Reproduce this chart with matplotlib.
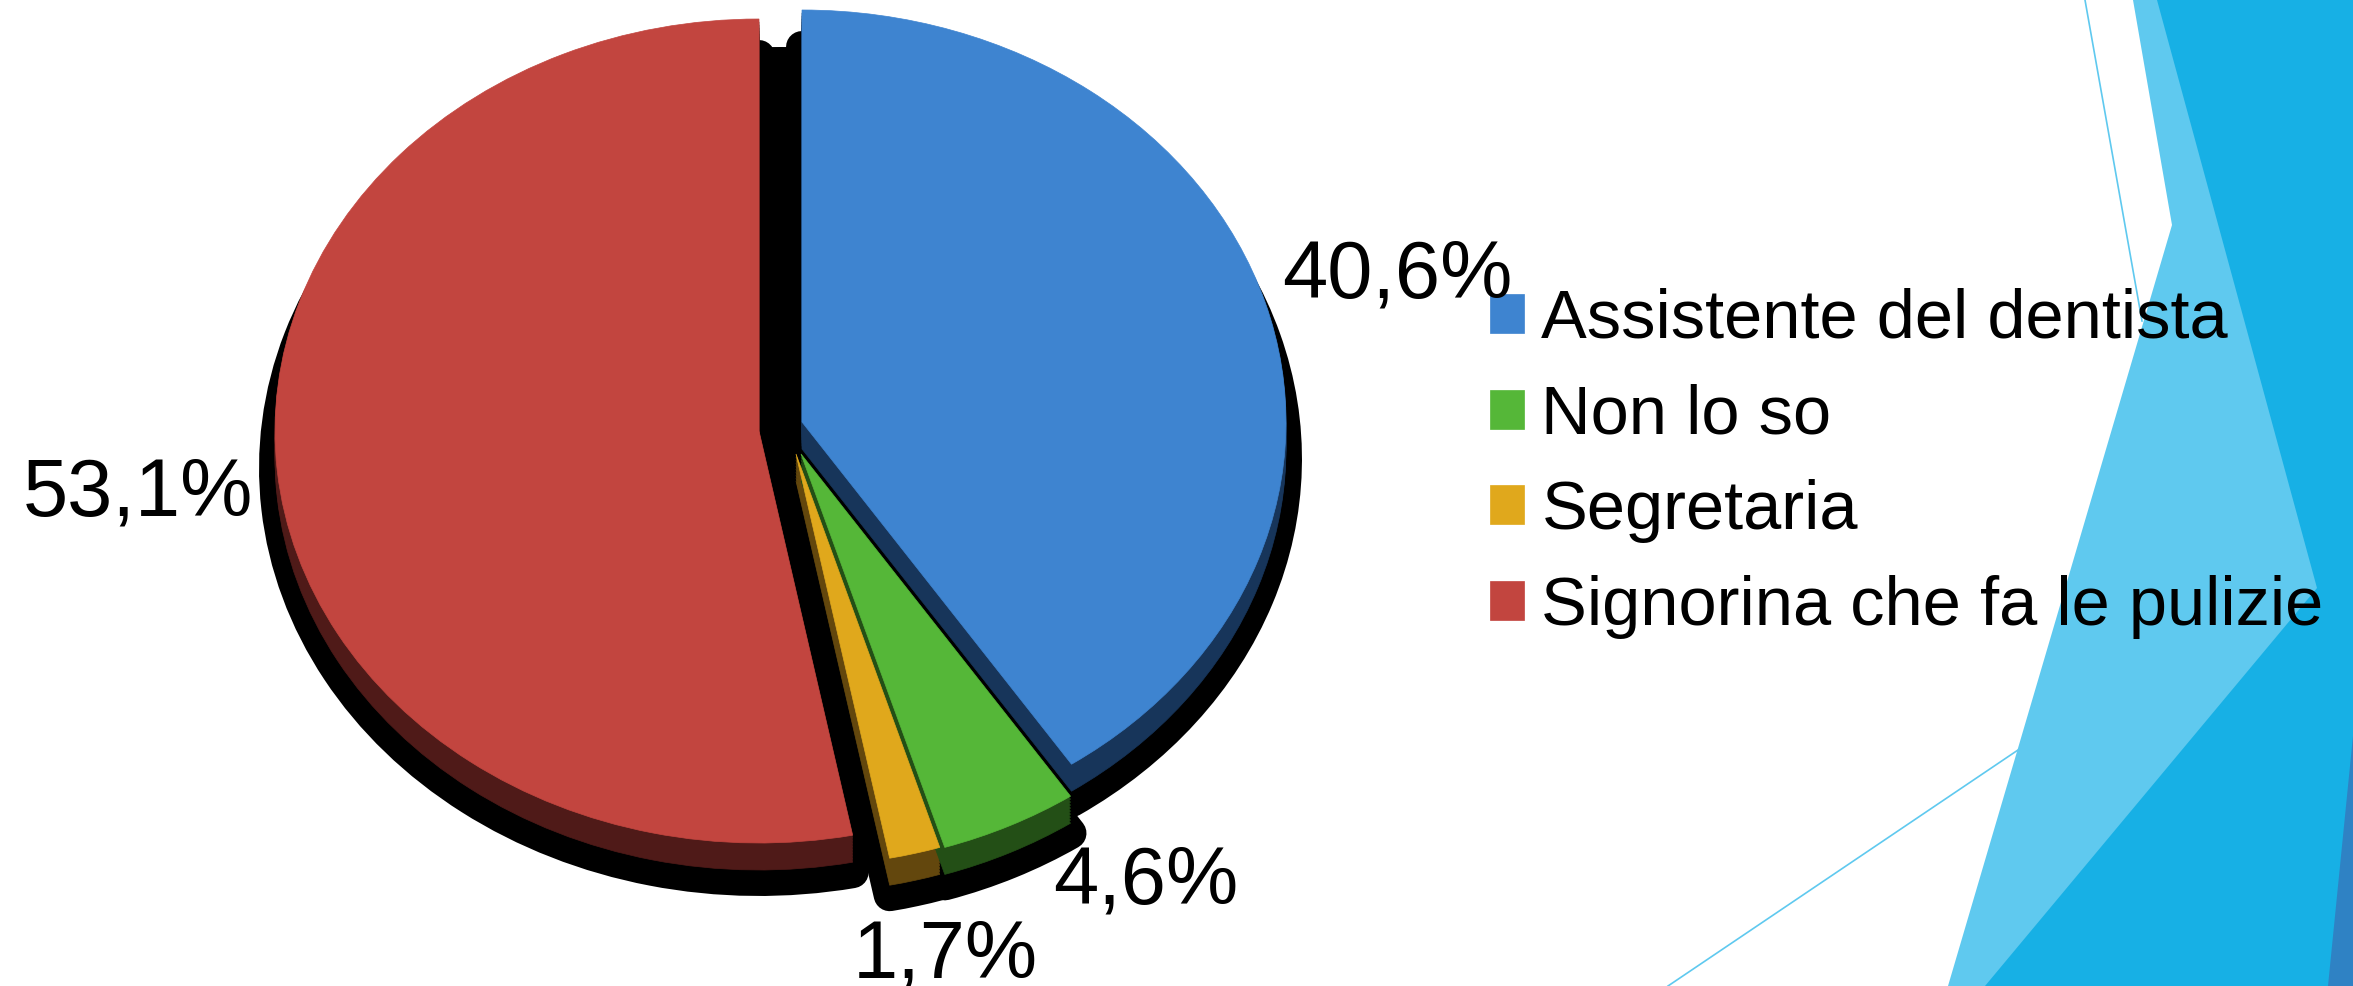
import matplotlib
matplotlib.use("Agg")
import matplotlib.pyplot as plt
from matplotlib.patches import Polygon

# ---- data ----
categories = ["Assistente del dentista", "Non lo so", "Segretaria", "Signorina che fa le pulizie"]
values = [40.6, 4.6, 1.7, 53.1]
colors = ["#3E84D0", "#55B738", "#E0A81C", "#C2453F"]
dark_colors = ["#17355A", "#234F16", "#63470D", "#4F1A18"]

# ---- layout (pixels) ----
W, H = 2353, 986
RX, RY = 484, 412
CX, CY = 759, 431
wedge_offsets = [(43, -9), (42, 23), (37, 23), (0, 0)]
DEPTH = 27
SHADOW = 37
label_pos = [(1282, 297), (1053, 903), (853, 977), (23, 515)]

plt.rcParams["font.family"] = ["Liberation Sans", "DejaVu Sans"]
fig = plt.figure(figsize=(W / 100, H / 100), dpi=100, facecolor="white")
ax = fig.add_axes([0, 0, 1, 1])


def to_data(px, py):
    return (px - CX) / RX, (CY - py) / RY


def draw_layer(idx, dx, dy, color, **props):
    off = wedge_offsets[idx]
    center = to_data(CX + off[0] + dx, CY + off[1] + dy)
    wedges, _ = ax.pie(values, startangle=90, counterclock=False, radius=1, center=center,
                       colors=[color] * len(values), wedgeprops=props)
    for i, w in enumerate(wedges):
        w.set_visible(i == idx)
    return wedges[idx]


# shadow
for i in range(len(values)):
    draw_layer(i, 0, SHADOW, "black", edgecolor="black", linewidth=23, joinstyle="round")
# black backing that closes the gaps between the separated slices
ax.pie([sum(values)], radius=1, center=to_data(CX + 22, CY + 28), colors=["black"])
# extruded side
order = [3, 2, 1, 0]
for i in order:
    for d in range(DEPTH, 0, -3):
        draw_layer(i, 0, d, dark_colors[i], edgecolor=dark_colors[i], linewidth=0.5)
# top faces
handles = {}
for i in order:
    handles[i] = draw_layer(i, 0, 0, colors[i], edgecolor=colors[i], linewidth=0.5)

ax.set_aspect("auto")
ax.set_xlim(-CX / RX, (W - CX) / RX)
ax.set_ylim((CY - H) / RY, CY / RY)
ax.axis("off")


# slide decoration
def px_poly(pts, color, z=0):
    ax.add_patch(Polygon([to_data(*p) for p in pts], closed=True, facecolor=color, edgecolor="none", zorder=z))


px_poly([(2133, 0), (2172, 225), (1948, 986), (2353, 986), (2353, 0)], "#5FC9EF", 0)
px_poly([(2157, 0), (2353, 0), (2353, 986), (1985, 986), (2317, 588)], "#17B0E5", 0.1)
px_poly([(2353, 736), (2353, 986), (2328, 986)], "#2F82C4", 0.2)
for (a, b) in [((2085, 0), (2142, 321)), ((1668, 986), (2018, 750))]:
    pa, pb = to_data(*a), to_data(*b)
    ax.plot([pa[0], pb[0]], [pa[1], pb[1]], color="#5FC9EF", lw=1.2, zorder=0.05)

# percentage labels
for v, (x, y) in zip(values, label_pos):
    fig.text(x / W, 1 - y / H, f"{v:.1f}%".replace(".", ","), fontsize=58.5, color="black",
             ha="left", va="baseline")

# legend
leg = ax.legend([handles[i] for i in range(4)], categories, loc="upper left",
                bbox_to_anchor=(1490 / W, 1 - 288 / H), bbox_transform=fig.transFigure,
                frameon=False, fontsize=49.4, handlelength=0.5, handleheight=0.5,
                handletextpad=0.25, labelspacing=0.46, borderpad=0, borderaxespad=0)
leg.set_zorder(10)

fig.savefig("out.png", dpi=100)
